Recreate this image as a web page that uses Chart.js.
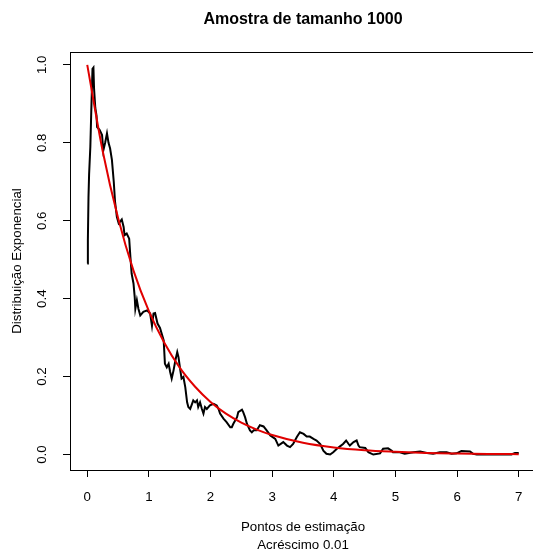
<!DOCTYPE html>
<html>
<head>
<meta charset="utf-8">
<script src="https://cdn.jsdelivr.net/npm/chart.js@4/dist/chart.umd.min.js"></script>
<style>
  html, body { margin: 0; padding: 0; background: #fff; overflow: hidden; }
  canvas { display: block; }
</style>
</head>
<body>
<canvas id="chart" width="540" height="556"></canvas>
<script>
const densX = [0, 0.01, 0.02, 0.03, 0.05, 0.065, 0.085, 0.10, 0.11, 0.13, 0.15, 0.16, 0.20, 0.24, 0.26, 0.29, 0.32, 0.345, 0.37, 0.40,
  0.43, 0.45, 0.48, 0.51, 0.56, 0.59, 0.605, 0.64, 0.68, 0.70, 0.72, 0.75, 0.77, 0.78, 0.805, 0.83, 0.86, 0.91, 0.97, 1.02,
  1.05, 1.075, 1.10, 1.14, 1.18, 1.24, 1.26, 1.29, 1.32, 1.345, 1.37, 1.40, 1.43, 1.46, 1.48, 1.51, 1.53, 1.56, 1.59, 1.62,
  1.64, 1.67, 1.70, 1.72, 1.75, 1.78, 1.80, 1.83, 1.86, 1.885, 1.91, 1.94, 1.99, 2.05, 2.10, 2.13, 2.155, 2.21, 2.26, 2.32,
  2.345, 2.37, 2.43, 2.45, 2.51, 2.53, 2.56, 2.59, 2.64, 2.67, 2.70, 2.75, 2.78, 2.80, 2.86, 2.91, 2.97, 3.05, 3.10, 3.18,
  3.24, 3.29, 3.34, 3.40, 3.45, 3.51, 3.56, 3.61, 3.67, 3.72, 3.78, 3.83, 3.88, 3.94, 3.99, 4.05, 4.10, 4.15, 4.20, 4.24,
  4.26, 4.32, 4.37, 4.40, 4.42, 4.51, 4.56, 4.64, 4.75, 4.80, 4.88, 4.94, 4.96, 5.07, 5.15, 5.29, 5.40, 5.51, 5.61, 5.72,
  5.83, 5.91, 5.99, 6.07, 6.21, 6.26, 6.32, 6.88, 6.94, 7.0];
const densY = [0.49, 0.55, 0.66, 0.72, 0.79, 0.88, 0.99, 0.993, 0.94, 0.89, 0.87, 0.84, 0.833, 0.82, 0.78, 0.80, 0.824, 0.80, 0.786, 0.756,
  0.70, 0.65, 0.61, 0.593, 0.603, 0.584, 0.563, 0.567, 0.554, 0.507, 0.464, 0.439, 0.404, 0.374, 0.396, 0.374, 0.357, 0.366, 0.37, 0.362,
  0.33, 0.362, 0.363, 0.336, 0.325, 0.293, 0.233, 0.224, 0.233, 0.212, 0.195, 0.216, 0.242, 0.263, 0.25, 0.216, 0.195, 0.199, 0.173, 0.134,
  0.122, 0.117, 0.13, 0.139, 0.134, 0.139, 0.122, 0.134, 0.117, 0.105, 0.122, 0.117, 0.126, 0.13, 0.126, 0.117, 0.105, 0.092, 0.083, 0.070,
  0.070, 0.079, 0.096, 0.109, 0.115, 0.109, 0.096, 0.079, 0.062, 0.057, 0.062, 0.062, 0.070, 0.075, 0.072, 0.062, 0.049, 0.040, 0.023, 0.032,
  0.023, 0.019, 0.027, 0.045, 0.057, 0.053, 0.046, 0.046, 0.040, 0.036, 0.027, 0.010, 0.002, 0.0, 0.006, 0.015, 0.021, 0.027, 0.036, 0.027,
  0.023, 0.032, 0.036, 0.023, 0.019, 0.017, 0.006, 0.0, 0.003, 0.015, 0.016, 0.010, 0.006, 0.006, 0.002, 0.006, 0.008, 0.004, 0.002, 0.006,
  0.006, 0.002, 0.003, 0.009, 0.008, 0.002, 0.0, 0.0, 0.004, 0.004];

// Theoretical curve (red)
const curveX = [0, 0.25, 0.5, 0.75, 1, 1.25, 1.5, 1.75, 2, 2.25, 2.5, 2.75, 3, 3.5, 4, 4.5, 5, 5.5, 6, 6.5, 7];
const curveY = [1.0, 0.779, 0.607, 0.472, 0.368, 0.287, 0.223, 0.174, 0.135, 0.105, 0.082, 0.064, 0.050, 0.030, 0.018, 0.011, 0.007, 0.004, 0.0025, 0.0015, 0.001];

const xTicks = [0, 1, 2, 3, 4, 5, 6, 7];
const yTicks = [0, 0.2, 0.4, 0.6, 0.8, 1.0];

Chart.defaults.font.family = '"Liberation Sans", Arial, sans-serif';
Chart.defaults.font.size = 13.3;
Chart.defaults.color = '#000';

// R-style box around the plot region
const boxPlugin = {
  id: 'box',
  afterDraw(chart) {
    const { ctx, chartArea: a } = chart;
    ctx.save();
    ctx.strokeStyle = '#000';
    ctx.lineWidth = 1;
    ctx.strokeRect(Math.round(a.left) + 0.5, Math.round(a.top) + 0.5, Math.round(a.right - a.left), Math.round(a.bottom - a.top));
    ctx.restore();
  }
};

new Chart(document.getElementById('chart'), {
  type: 'scatter',
  data: {
    datasets: [
      {
        data: curveX.map((x, i) => ({ x, y: curveY[i] })),
        showLine: true,
        borderColor: '#e00000',
        borderWidth: 2,
        pointRadius: 0,
        cubicInterpolationMode: 'monotone'
      },
      {
        data: densX.map((x, i) => ({ x, y: densY[i] })),
        showLine: true,
        borderColor: '#000',
        borderWidth: 2,
        pointRadius: 0,
        tension: 0
      }
    ]
  },
  options: {
    responsive: false,
    animation: false,
    layout: { padding: { left: 0, right: 4, top: 0, bottom: 0 } },
    scales: {
      x: {
        type: 'linear',
        min: -0.28,
        max: 7.28,
        afterBuildTicks: s => { s.ticks = xTicks.map(v => ({ value: v })); },
        afterFit: s => { s.height = 86; },
        grid: { display: true, drawOnChartArea: false, drawTicks: true, tickLength: 7, color: '#000' },
        border: { display: true, color: '#000' },
        ticks: { padding: 12.5, maxRotation: 0, callback: v => String(v) },
        title: {
          display: true,
          text: ['Pontos de estimação', 'Acréscimo 0.01'],
          font: { size: 13.3, lineHeight: 1.36 },
          padding: { top: 0, bottom: 1.5 }
        }
      },
      y: {
        type: 'linear',
        min: -0.0397,
        max: 1.033,
        afterBuildTicks: s => { s.ticks = yTicks.map(v => ({ value: v })); },
        afterFit: s => { s.width = 70; },
        grid: { display: true, drawOnChartArea: false, drawTicks: true, tickLength: 7, color: '#000' },
        border: { display: true, color: '#000' },
        ticks: { padding: 11, minRotation: 90, maxRotation: 90, crossAlign: 'center', callback: v => v.toFixed(1) },
        title: {
          display: true,
          text: 'Distribuição Exponencial',
          font: { size: 13.3 },
          padding: { top: 9.5, bottom: 0 }
        }
      }
    },
    plugins: {
      legend: { display: false },
      tooltip: { enabled: false },
      title: {
        display: true,
        fullSize: false,
        text: 'Amostra de tamanho 1000',
        font: { size: 16, weight: 'bold', lineHeight: 1.2 },
        color: '#000',
        padding: { top: 10, bottom: 22.8 }
      }
    }
  },
  plugins: [boxPlugin]
});
</script>
</body>
</html>
